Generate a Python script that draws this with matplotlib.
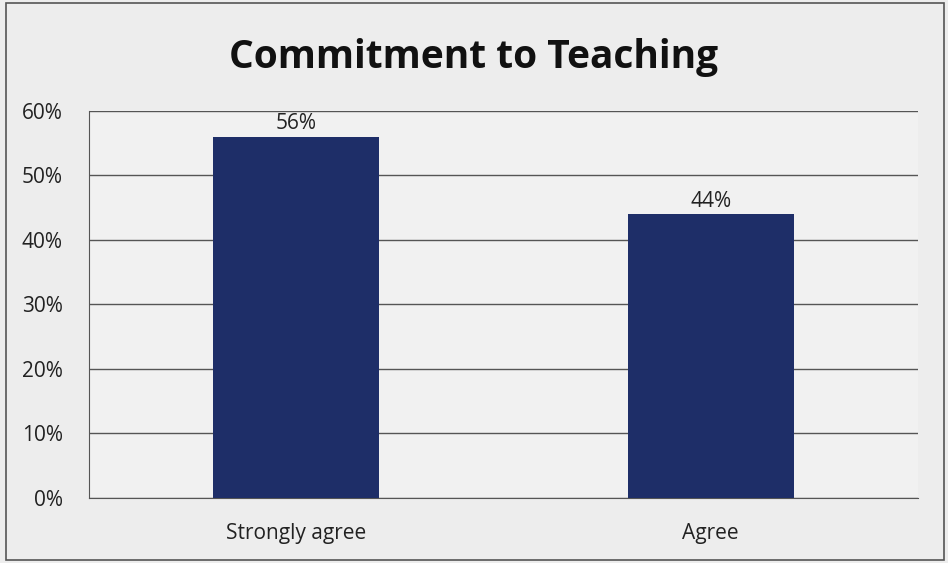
import matplotlib
matplotlib.use("Agg")
import matplotlib.pyplot as plt
from matplotlib.ticker import FuncFormatter
from matplotlib.patches import Rectangle

categories = ["Strongly agree", "Agree"]
values = [56, 44]
yticks = [0, 10, 20, 30, 40, 50, 60]

plt.rcParams['font.family'] = ['Open Sans', 'DejaVu Sans']

fig = plt.figure(figsize=(9.48, 5.63), dpi=100)
fig.patch.set_facecolor('#ededed')
ax = fig.add_axes([0.0939, 0.1155, 0.8745, 0.6875])
ax.set_facecolor('#f1f1f1')

x = list(range(len(categories)))
ax.bar(x, values, width=0.4, color='#1e2e68', zorder=3)
for xi, v in zip(x, values):
    ax.text(xi, v + 0.4, f"{v}%", ha='center', va='bottom', fontsize=15, color='#222222')

ax.set_xlim(-0.5, len(categories) - 0.5)
ax.set_ylim(0, 60)
ax.set_yticks(yticks)
ax.yaxis.set_major_formatter(FuncFormatter(lambda v, p: f"{int(v)}%"))
ax.set_xticks(x)
ax.set_xticklabels(categories)
ax.tick_params(axis='both', length=0, labelsize=15, colors='#222222')
ax.tick_params(axis='y', pad=19)
ax.tick_params(axis='x', pad=18)
ax.yaxis.grid(True, color='#555555', linewidth=1.0, zorder=0)
for s in ['top', 'right']:
    ax.spines[s].set_visible(False)
ax.spines['left'].set_color('#555555')
ax.spines['bottom'].set_color('#555555')

fig.text(0.5, 0.897, "Commitment to Teaching", ha='center', va='center',
         fontsize=28, fontweight='bold', color='#111111')

fig.patches.append(Rectangle((0.006, 0.005), 0.99, 0.99, transform=fig.transFigure,
                             fill=False, edgecolor='#555555', linewidth=1.2))

fig.savefig("out.png", dpi=100, facecolor=fig.get_facecolor())
